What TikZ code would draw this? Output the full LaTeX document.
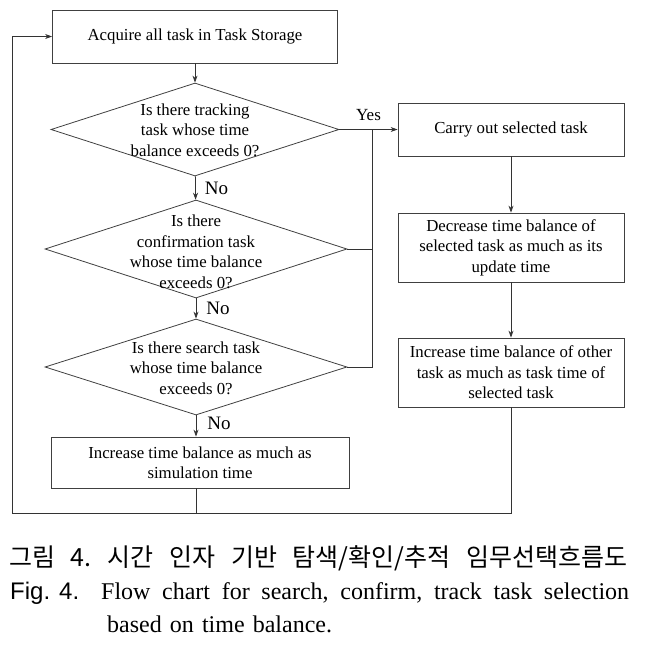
\documentclass[tikz,border=0pt]{standalone}
\usepackage{fontspec}
\setmainfont{Liberation Serif}
\newfontfamily\krfont{Noto Sans CJK KR}
\newfontfamily\capsans{Liberation Sans}
\newfontfamily\capserif[WordSpace=1.35]{Liberation Serif}
\usepackage{tikz}
\usetikzlibrary{positioning, arrows.meta, shapes.geometric}
\frenchspacing

\begin{document}
\begin{tikzpicture}[x=1pt, y=-1pt,
    block/.style={draw=black!75, line width=0.8pt, minimum width=226pt, minimum height=69pt, align=center, inner sep=2pt, font=\fontsize{16.8}{20.5}\selectfont},
    decision/.style={draw=black!75, line width=0.8pt, diamond, minimum width=302pt, minimum height=97pt, inner sep=0pt},
    qtext/.style={align=center, inner sep=0pt, font=\fontsize{16.8}{20.5}\selectfont},
    lbl/.style={font=\fontsize{19}{20}\selectfont, inner sep=1pt},
    arr/.style={-{Stealth[length=7pt, width=5pt]}, draw=black!80, line width=0.8pt},
    ln/.style={draw=black!80, line width=0.8pt}
]
    \useasboundingbox (0,0) rectangle (649,649);

    % left column
    \node[block, minimum width=285pt, minimum height=53pt] (acq) at (195,36.5) {Acquire all task in Task Storage};
    \node[decision, minimum width=288pt, minimum height=93pt] (d1) at (195,129.5) {};
    \node[qtext] (q1) at (195,130) {Is there tracking\\task whose time\\balance exceeds 0?};
    \node[decision, minimum height=98pt] (d2) at (196,249) {};
    \node[qtext] (q2) at (196,252) {Is there\\confirmation task\\whose time balance\\exceeds 0?};
    \node[decision, minimum height=96pt] (d3) at (196,367) {};
    \node[qtext] (q3) at (196,368) {Is there search task\\whose time balance\\exceeds 0?};
    \node[block, minimum width=298pt, minimum height=51pt] (inc1) at (200,462.5) {Increase time balance as much as\\simulation time};

    % right column
    \node[block, minimum height=53pt] (carry) at (511,129.5) {Carry out selected task};
    \node[block] (dec) at (511,247.5) {Decrease time balance of\\selected task as much as its\\update time};
    \node[block] (inc2) at (511,372.5) {Increase time balance of other\\task as much as task time of\\selected task};

    \coordinate (jn) at (372,129.5);
    \coordinate (lp) at (12,513);

    \draw[arr] (acq.south -| d1.north) -- (d1.north);
    \draw[arr] (d1) -- node[lbl, right=8pt] (no1) {No} (d2);
    \draw[arr] (d2.south) -- node[lbl, right=9pt] (no2) {No} (d3.north);
    \draw[arr] (d3) -- node[lbl, right=10pt, yshift=3pt] (no3) {No} (d3.south |- inc1.north);
    \draw[arr] (d1) -- node[lbl, above=7pt, font=\fontsize{17}{18}\selectfont] (yes) {Yes} (carry);
    \draw[ln] (d2.east) -- (d2.east -| jn);
    \draw[ln] (d3.east) -| (jn);

    \draw[arr] (carry) -- (dec);
    \draw[arr] (dec) -- (inc2);

    % return loop
    \draw[ln] (d3.south |- inc1.south) |- (lp);
    \draw[ln] (inc2) |- (lp);
    \draw[arr] (lp) |- (acq.west);

    % caption
    \node[anchor=base west, inner sep=0pt, font=\krfont\fontsize{25}{25}\selectfont] (krcap) at (9,566)
        {\makebox[618pt][s]{그림 4. 시간 인자 기반 탐색/확인/추적 임무선택흐름도}};
    \node[anchor=base west, inner sep=0pt, font=\capsans\fontsize{24}{33}\selectfont] (fignum) at (10,599) {Fig.\hspace{9pt}4.};
    \node[anchor=base west, inner sep=0pt, font=\capserif\fontsize{24}{33}\selectfont] (encap1) at (101,599)
        {\makebox[528pt][s]{Flow chart for search, confirm, track task selection}};
    \node[anchor=base west, inner sep=0pt, font=\capserif\fontsize{24}{33}\selectfont] (encap2) at (107,632)
        {based on time balance.};
\end{tikzpicture}
\end{document}
